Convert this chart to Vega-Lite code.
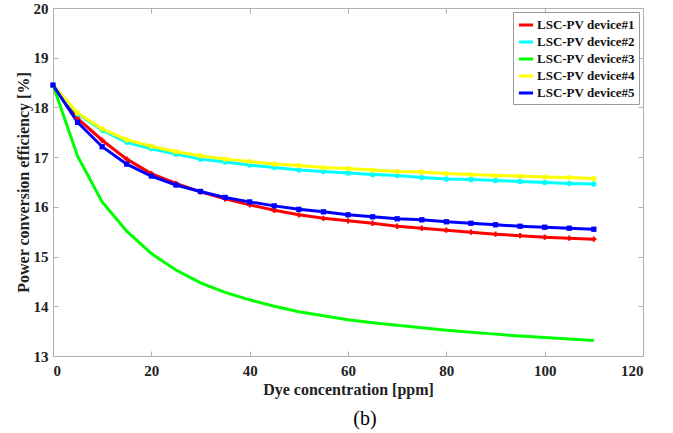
{
  "$schema": "https://vega.github.io/schema/vega-lite/v6.json",
  "width": 590,
  "height": 348,
  "autosize": {"type": "none"},
  "padding": {"left": 53, "top": 8, "right": 30, "bottom": 77},
  "background": "white",
  "config": {
    "view": {"stroke": null},
    "font": "Liberation Serif"
  },
  "title": {
    "text": "(b)",
    "orient": "bottom",
    "font": "Liberation Serif",
    "fontSize": 20,
    "fontWeight": "normal",
    "color": "black",
    "offset": 12,
    "dx": 17
  },
  "data": {
    "values": [
      {"x": 0, "series": "LSC-PV device#1", "y": 18.45},
      {"x": 5, "series": "LSC-PV device#1", "y": 17.78},
      {"x": 10, "series": "LSC-PV device#1", "y": 17.34},
      {"x": 15, "series": "LSC-PV device#1", "y": 16.96},
      {"x": 20, "series": "LSC-PV device#1", "y": 16.67},
      {"x": 25, "series": "LSC-PV device#1", "y": 16.47},
      {"x": 30, "series": "LSC-PV device#1", "y": 16.30},
      {"x": 35, "series": "LSC-PV device#1", "y": 16.16},
      {"x": 40, "series": "LSC-PV device#1", "y": 16.04},
      {"x": 45, "series": "LSC-PV device#1", "y": 15.93},
      {"x": 50, "series": "LSC-PV device#1", "y": 15.84},
      {"x": 55, "series": "LSC-PV device#1", "y": 15.77},
      {"x": 60, "series": "LSC-PV device#1", "y": 15.72},
      {"x": 65, "series": "LSC-PV device#1", "y": 15.67},
      {"x": 70, "series": "LSC-PV device#1", "y": 15.61},
      {"x": 75, "series": "LSC-PV device#1", "y": 15.57},
      {"x": 80, "series": "LSC-PV device#1", "y": 15.53},
      {"x": 85, "series": "LSC-PV device#1", "y": 15.49},
      {"x": 90, "series": "LSC-PV device#1", "y": 15.45},
      {"x": 95, "series": "LSC-PV device#1", "y": 15.42},
      {"x": 100, "series": "LSC-PV device#1", "y": 15.39},
      {"x": 105, "series": "LSC-PV device#1", "y": 15.37},
      {"x": 110, "series": "LSC-PV device#1", "y": 15.35},
      {"x": 0, "series": "LSC-PV device#2", "y": 18.45},
      {"x": 5, "series": "LSC-PV device#2", "y": 17.87},
      {"x": 10, "series": "LSC-PV device#2", "y": 17.54},
      {"x": 15, "series": "LSC-PV device#2", "y": 17.30},
      {"x": 20, "series": "LSC-PV device#2", "y": 17.17},
      {"x": 25, "series": "LSC-PV device#2", "y": 17.06},
      {"x": 30, "series": "LSC-PV device#2", "y": 16.96},
      {"x": 35, "series": "LSC-PV device#2", "y": 16.90},
      {"x": 40, "series": "LSC-PV device#2", "y": 16.84},
      {"x": 45, "series": "LSC-PV device#2", "y": 16.79},
      {"x": 50, "series": "LSC-PV device#2", "y": 16.74},
      {"x": 55, "series": "LSC-PV device#2", "y": 16.71},
      {"x": 60, "series": "LSC-PV device#2", "y": 16.68},
      {"x": 65, "series": "LSC-PV device#2", "y": 16.65},
      {"x": 70, "series": "LSC-PV device#2", "y": 16.63},
      {"x": 75, "series": "LSC-PV device#2", "y": 16.59},
      {"x": 80, "series": "LSC-PV device#2", "y": 16.56},
      {"x": 85, "series": "LSC-PV device#2", "y": 16.55},
      {"x": 90, "series": "LSC-PV device#2", "y": 16.53},
      {"x": 95, "series": "LSC-PV device#2", "y": 16.51},
      {"x": 100, "series": "LSC-PV device#2", "y": 16.49},
      {"x": 105, "series": "LSC-PV device#2", "y": 16.47},
      {"x": 110, "series": "LSC-PV device#2", "y": 16.46},
      {"x": 0, "series": "LSC-PV device#3", "y": 18.45},
      {"x": 5, "series": "LSC-PV device#3", "y": 17.02},
      {"x": 10, "series": "LSC-PV device#3", "y": 16.10},
      {"x": 15, "series": "LSC-PV device#3", "y": 15.51},
      {"x": 20, "series": "LSC-PV device#3", "y": 15.06},
      {"x": 25, "series": "LSC-PV device#3", "y": 14.73},
      {"x": 30, "series": "LSC-PV device#3", "y": 14.47},
      {"x": 35, "series": "LSC-PV device#3", "y": 14.28},
      {"x": 40, "series": "LSC-PV device#3", "y": 14.13},
      {"x": 45, "series": "LSC-PV device#3", "y": 14.00},
      {"x": 50, "series": "LSC-PV device#3", "y": 13.89},
      {"x": 55, "series": "LSC-PV device#3", "y": 13.81},
      {"x": 60, "series": "LSC-PV device#3", "y": 13.73},
      {"x": 65, "series": "LSC-PV device#3", "y": 13.67},
      {"x": 70, "series": "LSC-PV device#3", "y": 13.62},
      {"x": 75, "series": "LSC-PV device#3", "y": 13.57},
      {"x": 80, "series": "LSC-PV device#3", "y": 13.52},
      {"x": 85, "series": "LSC-PV device#3", "y": 13.48},
      {"x": 90, "series": "LSC-PV device#3", "y": 13.44},
      {"x": 95, "series": "LSC-PV device#3", "y": 13.40},
      {"x": 100, "series": "LSC-PV device#3", "y": 13.37},
      {"x": 105, "series": "LSC-PV device#3", "y": 13.34},
      {"x": 110, "series": "LSC-PV device#3", "y": 13.31},
      {"x": 0, "series": "LSC-PV device#4", "y": 18.45},
      {"x": 5, "series": "LSC-PV device#4", "y": 17.89},
      {"x": 10, "series": "LSC-PV device#4", "y": 17.57},
      {"x": 15, "series": "LSC-PV device#4", "y": 17.35},
      {"x": 20, "series": "LSC-PV device#4", "y": 17.22},
      {"x": 25, "series": "LSC-PV device#4", "y": 17.11},
      {"x": 30, "series": "LSC-PV device#4", "y": 17.03},
      {"x": 35, "series": "LSC-PV device#4", "y": 16.96},
      {"x": 40, "series": "LSC-PV device#4", "y": 16.91},
      {"x": 45, "series": "LSC-PV device#4", "y": 16.86},
      {"x": 50, "series": "LSC-PV device#4", "y": 16.83},
      {"x": 55, "series": "LSC-PV device#4", "y": 16.79},
      {"x": 60, "series": "LSC-PV device#4", "y": 16.77},
      {"x": 65, "series": "LSC-PV device#4", "y": 16.74},
      {"x": 70, "series": "LSC-PV device#4", "y": 16.71},
      {"x": 75, "series": "LSC-PV device#4", "y": 16.70},
      {"x": 80, "series": "LSC-PV device#4", "y": 16.67},
      {"x": 85, "series": "LSC-PV device#4", "y": 16.65},
      {"x": 90, "series": "LSC-PV device#4", "y": 16.63},
      {"x": 95, "series": "LSC-PV device#4", "y": 16.62},
      {"x": 100, "series": "LSC-PV device#4", "y": 16.60},
      {"x": 105, "series": "LSC-PV device#4", "y": 16.59},
      {"x": 110, "series": "LSC-PV device#4", "y": 16.57},
      {"x": 0, "series": "LSC-PV device#5", "y": 18.45},
      {"x": 5, "series": "LSC-PV device#5", "y": 17.70},
      {"x": 10, "series": "LSC-PV device#5", "y": 17.21},
      {"x": 15, "series": "LSC-PV device#5", "y": 16.86},
      {"x": 20, "series": "LSC-PV device#5", "y": 16.62},
      {"x": 25, "series": "LSC-PV device#5", "y": 16.44},
      {"x": 30, "series": "LSC-PV device#5", "y": 16.31},
      {"x": 35, "series": "LSC-PV device#5", "y": 16.19},
      {"x": 40, "series": "LSC-PV device#5", "y": 16.10},
      {"x": 45, "series": "LSC-PV device#5", "y": 16.02},
      {"x": 50, "series": "LSC-PV device#5", "y": 15.95},
      {"x": 55, "series": "LSC-PV device#5", "y": 15.90},
      {"x": 60, "series": "LSC-PV device#5", "y": 15.84},
      {"x": 65, "series": "LSC-PV device#5", "y": 15.80},
      {"x": 70, "series": "LSC-PV device#5", "y": 15.76},
      {"x": 75, "series": "LSC-PV device#5", "y": 15.74},
      {"x": 80, "series": "LSC-PV device#5", "y": 15.70},
      {"x": 85, "series": "LSC-PV device#5", "y": 15.67},
      {"x": 90, "series": "LSC-PV device#5", "y": 15.64},
      {"x": 95, "series": "LSC-PV device#5", "y": 15.61},
      {"x": 100, "series": "LSC-PV device#5", "y": 15.59},
      {"x": 105, "series": "LSC-PV device#5", "y": 15.57},
      {"x": 110, "series": "LSC-PV device#5", "y": 15.55}
    ]
  },
  "layer": [
    {
      "mark": {"type": "point", "opacity": 0},
      "encoding": {
        "x": {"field": "x", "type": "quantitative", "scale": {"domain": [0, 120], "nice": false},
          "axis": {"orient": "top", "values": [0, 20, 40, 60, 80, 100, 120], "labels": false, "title": null, "grid": false, "domainColor": "#b0b0b0", "tickColor": "#b0b0b0", "tickSize": -5}},
        "y": {"field": "y", "type": "quantitative", "scale": {"domain": [13, 20], "nice": false, "zero": false},
          "axis": {"orient": "right", "values": [13, 14, 15, 16, 17, 18, 19, 20], "labels": false, "title": null, "grid": false, "domainColor": "#b0b0b0", "tickColor": "#b0b0b0", "tickSize": -5}}
      }
    },
    {
      "mark": {"type": "line", "strokeWidth": 3},
      "encoding": {
        "x": {"field": "x", "type": "quantitative", "scale": {"domain": [0, 120], "nice": false},
          "axis": {"orient": "bottom", "values": [0, 20, 40, 60, 80, 100, 120], "grid": false, "domainColor": "#b0b0b0", "tickColor": "#b0b0b0", "tickSize": -5, "labelFont": "Liberation Serif", "labelFontWeight": "bold", "labelFontSize": 15, "labelColor": "#222", "labelPadding": 12, "title": "Dye concentration [ppm]", "titleFont": "Liberation Serif", "titleFontWeight": "bold", "titleFontSize": 16, "titleColor": "#222", "titlePadding": 3}},
        "y": {"field": "y", "type": "quantitative", "scale": {"domain": [13, 20], "nice": false, "zero": false},
          "axis": {"orient": "left", "values": [13, 14, 15, 16, 17, 18, 19, 20], "grid": false, "domainColor": "#b0b0b0", "tickColor": "#b0b0b0", "tickSize": -5, "labelFont": "Liberation Serif", "labelFontWeight": "bold", "labelFontSize": 15, "labelColor": "#222", "labelPadding": 10, "title": "Power conversion efficiency [%]", "titleFont": "Liberation Serif", "titleFontWeight": "bold", "titleFontSize": 16, "titleColor": "#222", "titlePadding": 2}},
        "color": {"field": "series", "type": "nominal",
          "scale": {"domain": ["LSC-PV device#1", "LSC-PV device#2", "LSC-PV device#3", "LSC-PV device#4", "LSC-PV device#5"], "range": ["#ff0000", "#00ffff", "#00ff00", "#ffff00", "#0000ff"]},
          "legend": {"orient": "none", "legendX": 460, "legendY": 4, "title": null, "symbolType": "stroke", "symbolStrokeWidth": 3, "symbolSize": 200, "labelFont": "Liberation Serif", "labelFontWeight": "bold", "labelFontSize": 13, "labelColor": "#111", "strokeColor": "#999", "fillColor": "white", "padding": 4, "rowPadding": 1, "labelOffset": 2}}
      }
    },
    {
      "transform": [{"filter": "datum.series !== 'LSC-PV device#3'"}],
      "mark": {"type": "point", "filled": true, "opacity": 1},
      "encoding": {
        "x": {"field": "x", "type": "quantitative", "axis": null},
        "y": {"field": "y", "type": "quantitative", "axis": null},
        "color": {"field": "series", "type": "nominal", "legend": null},
        "shape": {"field": "series", "type": "nominal", "legend": null,
          "scale": {"domain": ["LSC-PV device#1", "LSC-PV device#2", "LSC-PV device#4", "LSC-PV device#5"], "range": ["cross", "circle", "circle", "square"]}},
        "size": {"value": 28}
      }
    }
  ],
  "resolve": {"axis": {"x": "independent", "y": "independent"}}
}
